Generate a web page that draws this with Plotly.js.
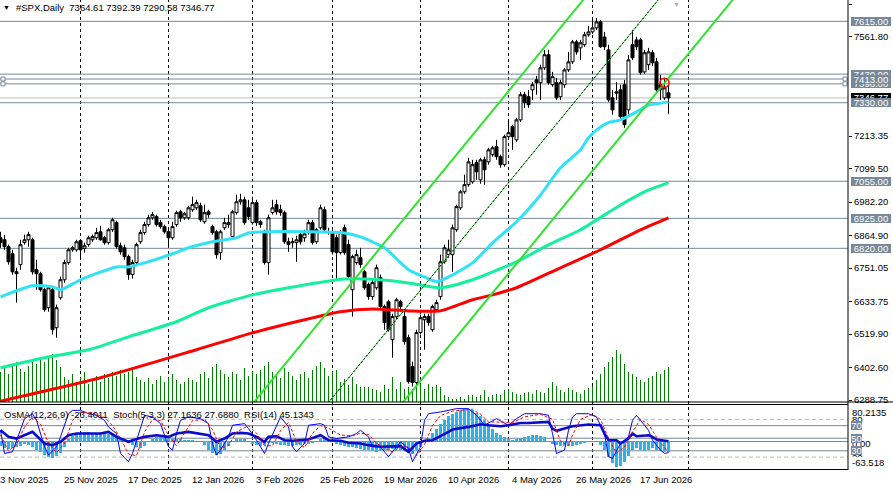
<!DOCTYPE html>
<html><head><meta charset="utf-8">
<script src="https://cdn.plot.ly/plotly-3.0.1.min.js"></script>
<style>html,body{margin:0;padding:0;background:#fff;}#chart{width:893px;height:490px;}</style>
</head><body><div id="chart"></div>
<script>
// ---------------- DATA ----------------
const open = [6857,6850,6826,6801,6738,6763,6840,6850,6850,6745,6731,6675,6612,6675,6542,6647,6710,6770,6815,6815,6847,6819,6833,6850,6857,6878,6857,6840,6885,6910,6829,6822,6791,6728,6770,6843,6875,6903,6927,6931,6910,6896,6878,6857,6903,6948,6927,6927,6955,6962,6969,6913,6948,6896,6878,6805,6892,6903,6861,6945,6983,6990,6962,6910,6980,6913,6875,6770,6945,6973,6955,6945,6843,6840,6840,6868,6857,6875,6910,6843,6892,6955,6875,6875,6857,6805,6892,6833,6675,6770,6787,6738,6693,6651,6682,6717,6616,6633,6500,6581,6633,6581,6507,6406,6350,6525,6570,6581,6535,6605,6651,6773,6798,6798,6885,6962,7018,7043,7053,7120,7060,7130,7123,7148,7176,7141,7113,7211,7246,7200,7270,7358,7351,7375,7410,7400,7452,7498,7393,7400,7351,7393,7445,7473,7543,7522,7533,7568,7578,7592,7613,7560,7515,7347,7368,7375,7393,7305,7533,7550,7550,7438,7463,7505,7473,7393,7347,7364.61];
const high = [6878,6867,6833,6815,6752,6850,6868,6878,6857,6780,6738,6682,6689,6686,6623,6721,6780,6822,6829,6850,6850,6840,6864,6868,6892,6899,6864,6892,6927,6917,6840,6833,6798,6780,6840,6885,6913,6938,6948,6938,6920,6903,6885,6913,6952,6955,6948,6969,7001,6990,6980,6973,6955,6903,6885,6885,6927,6938,6955,7008,7011,7001,6990,7001,6990,6920,6885,6938,6990,6990,6973,6952,6857,6857,6864,6878,6885,6920,6920,6892,6973,6966,6892,6885,6868,6885,6903,6850,6798,6815,6822,6745,6700,6710,6763,6728,6623,6640,6591,6647,6640,6598,6518,6423,6535,6588,6591,6591,6623,6640,6798,6833,6850,6903,6973,7025,7078,7137,7130,7130,7137,7141,7172,7179,7200,7148,7218,7270,7253,7277,7368,7368,7375,7403,7424,7463,7515,7515,7438,7417,7410,7452,7508,7550,7550,7550,7578,7599,7620,7627,7620,7578,7533,7375,7403,7393,7410,7497,7585,7561,7557,7515,7522,7515,7487,7428,7417,7392.39];
const low = [6822,6815,6763,6728,6630,6745,6833,6826,6728,6675,6668,6598,6598,6518,6507,6640,6700,6763,6808,6808,6787,6805,6826,6843,6850,6847,6833,6833,6878,6819,6798,6780,6710,6714,6763,6836,6868,6896,6920,6896,6889,6871,6829,6850,6896,6913,6920,6920,6948,6955,6913,6906,6927,6868,6784,6780,6885,6892,6857,6938,6973,6903,6920,6903,6899,6892,6763,6728,6938,6938,6934,6836,6808,6822,6773,6833,6843,6868,6833,6836,6885,6878,6868,6798,6710,6798,6798,6710,6581,6763,6752,6675,6640,6640,6675,6605,6535,6528,6437,6570,6598,6483,6346,6336,6339,6518,6465,6549,6528,6598,6640,6766,6787,6738,6878,6955,7011,7036,7046,7060,7046,7043,7113,7141,7130,7102,7106,7200,7165,7193,7263,7312,7312,7340,7358,7340,7445,7393,7386,7340,7340,7382,7438,7466,7498,7480,7526,7561,7571,7585,7522,7515,7333,7288,7340,7270,7242,7288,7480,7515,7428,7431,7445,7459,7368,7340,7340,7290.58];
const close = [6840,6826,6773,6738,6731,6833,6850,6868,6738,6731,6675,6605,6682,6535,6612,6710,6770,6815,6822,6843,6815,6829,6857,6861,6875,6850,6840,6885,6920,6826,6808,6791,6728,6770,6833,6875,6903,6927,6938,6903,6896,6878,6857,6896,6945,6927,6941,6962,6973,6980,6920,6945,6938,6875,6798,6878,6910,6910,6948,6983,6990,6910,6931,6980,6910,6903,6770,6927,6962,6948,6945,6843,6833,6843,6850,6843,6871,6910,6840,6885,6962,6885,6878,6808,6805,6875,6805,6721,6791,6798,6763,6682,6651,6700,6752,6616,6560,6535,6581,6640,6616,6493,6353,6350,6525,6577,6581,6560,6616,6630,6773,6822,6815,6892,6966,7018,7043,7123,7113,7088,7130,7095,7165,7172,7141,7113,7211,7225,7211,7270,7358,7330,7323,7393,7400,7452,7498,7400,7421,7347,7400,7445,7473,7543,7508,7540,7568,7578,7592,7613,7526,7526,7340,7305,7364,7281,7253,7480,7487,7526,7435,7505,7508,7470,7375,7375,7382,7346.77];
const volume = [30,35,28,38,40,33,30,36,42,38,45,40,44,48,42,35,
 25,22,28,20,24,30,18,22,26,20,28,24,30,26,32,28,
 30,35,25,22,20,24,18,22,26,20,24,28,22,18,20,24,
 22,20,28,30,24,35,38,32,28,25,30,28,22,34,26,30,
 28,32,36,40,30,26,24,34,30,26,22,28,30,24,32,36,
 40,34,26,30,32,
 20,23,17,25,18,15,15,15,13,12,10,17,13,25,13,20,13,15,13,20,18,13,18,15,17,15,7,5,3,3,5,3,7,7,5,7,12,5,7,8,7,12,13,10,
 8,7,9,10,8,12,10,9,14,20,16,12,10,14,12,10,8,12,14,16,22,28,35,40,45,52,48,38,30,28,25,22,20,24,26,30,28,32,35];

const maFastX = [0,8,13,15,20,29,32,36,43,47,53,59,62,67,76,86,90,96,102,106,109,112,118,123,129,135,140,145,147,150,152,155,159,162,164,167];
const maFast  = [6650,6689,6685,6675,6710,6755,6755,6769,6801,6822,6843,6857,6874,6878,6878,6874,6860,6822,6745,6720,6703,6720,6769,6839,6913,7007,7102,7165,7207,7245,7260,7270,7298,7322,7326,7333];
const maMidX = [0,11,22,32,44,52,63,76,86,95,102,110,118,129,137,145,155,161,167];
const maMid  = [6402,6437,6465,6510,6563,6612,6657,6692,6713,6710,6699,6682,6710,6773,6832,6885,6972,7018,7050];
const maSlowX = [0,25,49,63,76,85,93,102,110,118,123,129,140,150,160,167];
const maSlow  = [6285,6367,6465,6524,6570,6598,6608,6601,6601,6640,6657,6682,6752,6815,6885,6927];

const upperBars = [60,150], upperPrices = [6224,7764];
const midBars = [80,168],   midPrices = [6246,7751];
const lowerBars = [98,186], lowerPrices = [6236,7741];

const levels = [7615,7430,7396,7413,7330,7055,6925,6820];
const bidPrice = 7346.77;
const alertBar = 166, alertPrice = 7400;

const osma = [-10,-14,-16,-15,-12,-9,-6,-8,-12,-18,-24,-30,-35,-37,-33,-25,-12,
 5,12,17,20,22,22,20,19,18,18,17,
 14,10,5,0,-4,-8,
 -12,-14,-10,
 -2,6,9,11,10,9,8,6,
 5,4,4,3,2,1,
 -8,-18,-25,-29,-27,-20,-10,
 2,5,6,5,2,
 -5,-8,-9,-7,
 -4,-3,-5,-7,-8,-9,-9,-8,-7,-6,-5,-3,
 2,5,7,4,
 -2,-5,-8,-10,-12,-13,-14,-16,-18,-20,-22,-24,-22,-20,-18,-17,-16,-18,-22,-25,-28,-22,
 -12,-2,8,18,28,38,48,56,
 62,66,70,72,72,70,64,56,47,38,28,20,
 14,9,5,4,5,
 8,11,13,15,14,12,9,
 0,-5,-8,-10,-11,-10,-9,-7,-5,-3,
 -1,2,0,
 -8,-20,-35,-48,-57,-55,-45,-32,-20,
 -14,-18,-22,-20,
 -15,-18,-22,-24,-23.4];

const stochX = [0,1,3,5,6,8,9,11,12,14,15,17,18,20,22,24,26,27,29,30,32,33,35,36,38,40,42,43,44,45,47,50,52,53,54,55,57,58,61,62,64,66,67,69,70,72,73,74,76,77,80,81,82,84,87,89,90,92,93,95,97,99,100,102,103,105,106,107,110,114,117,119,121,124,127,129,131,135,137,138,139,141,142,143,144,147,149,151,152,153,155,157,158,159,160,162,163,165,166,167];
const stochMain = [62.7,25.8,28.5,62.7,81.1,89,78.5,36.4,23.2,36.4,52.2,89,94.3,94.3,89,86.4,78.5,68,57.4,25.8,12.7,25.8,68,86.4,83.8,73.2,36.4,31.1,57.4,78.5,83.8,81.1,73.2,41.6,23.2,31.1,52.2,70.6,73.2,65.3,46.9,25.8,41.6,70.6,83.8,68,36.4,28.5,41.6,70.6,73.2,70.6,52.2,49.5,52.2,57.4,62.7,52.2,36.4,36.4,20.6,36.4,44.3,33.7,12.7,36.4,78.5,89,91.7,97,97,86.4,70.6,81.1,70.6,81.1,89,89,86.4,57.4,25.8,31.1,62.7,83.8,89,89,83.8,57.4,20.6,17.9,41.6,52.2,78.5,86.4,78.5,62.7,46.9,31.1,25.8,27.16];
const sigX = [0,2,4,6,8,10,12,14,16,18,20,23,26,28,30,32,34,36,38,40,42,44,46,48,51,53,55,57,59,62,64,66,68,70,72,74,76,78,80,82,85,88,90,92,94,96,98,100,102,104,106,108,110,113,118,120,122,125,128,131,135,138,140,142,143,145,148,150,152,154,156,158,160,162,164,166,167];
const stochSignal = [55,30,40,68,84,72,42,27,42,78,92,90,83,70,50,25,22,60,80,78,55,38,58,78,80,64,34,38,60,70,58,38,38,62,75,45,35,58,70,66,55,54,58,56,42,34,28,36,36,22,40,70,86,93,96,88,76,76,75,84,88,80,45,38,55,80,88,80,50,26,36,60,80,72,52,35,27.69];
const rsiX = [0,2,4,7,8,11,13,15,17,19,22,25,27,29,32,33,36,39,42,44,47,50,52,54,56,58,60,62,64,66,67,69,71,73,77,80,82,85,87,90,92,95,97,100,102,104,106,108,112,113,117,120,122,125,127,130,132,136,137,138,139,141,143,147,150,151,152,154,155,157,158,159,162,163,164,167];
const rsi = [62.7,52.2,49.5,57.4,60.1,41.6,39,44.3,54.8,57.4,57.4,57.4,60.1,52.2,44.3,46.9,52.2,54.8,52.2,57.4,60.1,57.4,54.8,44.3,49.5,57.4,58.5,57.4,52.2,44.3,52.2,53.2,46.9,45.9,48,54.8,46.9,45.9,42.7,41.6,39,36.4,36.4,37.4,28.5,41.6,45.9,46.9,60.1,63.8,68,72.2,70.6,69,70.6,74.3,74.3,75.3,75.9,65.3,61.7,65.3,69,71.7,70.6,57.4,46.9,46.9,41.6,49.5,57.4,53.2,54.8,52.2,48,45.13];

const dateLabels = ['3 Nov 2025','25 Nov 2025','17 Dec 2025','12 Jan 2026','3 Feb 2026','25 Feb 2026','19 Mar 2026','10 Apr 2026','4 May 2026','26 May 2026','17 Jun 2026'];
const dateLabelBars = [0,16,32,48,64,80,96,112,128,144,160];
const priceTicks = [7675.65,7561.80,7213.35,7099.50,6982.20,6864.90,6751.05,6633.75,6519.90,6402.60,6288.75];
const paneLevels = [70,50,30];

// ---------------- DRAW ----------------
const FONT = 'Liberation Sans, Arial, sans-serif';
const idx = close.map((_, i) => i);
const PW = 848; // plot width in px
const px = v => v / PW;

const traces = [
  {type:'bar', x:idx, y:volume, xaxis:'x', yaxis:'y', width:0.4, marker:{color:'#008000', line:{width:0}}, hoverinfo:'skip'},
  {type:'scatter', mode:'lines', x:maSlowX, y:maSlow, xaxis:'x', yaxis:'y2', line:{color:'#ff0000', width:3, shape:'spline', smoothing:0.6}, hoverinfo:'skip'},
  {type:'scatter', mode:'lines', x:maMidX, y:maMid, xaxis:'x', yaxis:'y2', line:{color:'#14f09c', width:3, shape:'spline', smoothing:0.6}, hoverinfo:'skip'},
  {type:'scatter', mode:'lines', x:maFastX, y:maFast, xaxis:'x', yaxis:'y2', line:{color:'#30e2f6', width:3, shape:'spline', smoothing:0.6}, hoverinfo:'skip'},
  {type:'scatter', mode:'lines', x:upperBars, y:upperPrices, xaxis:'x', yaxis:'y2', line:{color:'#2fe32f', width:2}, hoverinfo:'skip'},
  {type:'scatter', mode:'lines', x:lowerBars, y:lowerPrices, xaxis:'x', yaxis:'y2', line:{color:'#2fe32f', width:2}, hoverinfo:'skip'},
  {type:'scatter', mode:'lines', x:midBars, y:midPrices, xaxis:'x', yaxis:'y2', line:{color:'#2fe32f', width:1}, hoverinfo:'skip'},
  {type:'scatter', mode:'lines', x:midBars, y:midPrices, xaxis:'x', yaxis:'y2', line:{color:'#000000', width:1, dash:'2px,2px'}, hoverinfo:'skip'},
  {type:'candlestick', x:idx, open:open, high:high, low:low, close:close, xaxis:'x', yaxis:'y2',
   increasing:{fillcolor:'#ffffff', line:{color:'#000000', width:1}},
   decreasing:{fillcolor:'#000000', line:{color:'#000000', width:1}},
   whiskerwidth:0, hoverinfo:'skip'},
  {type:'scatter', mode:'markers', x:[alertBar], y:[alertPrice], xaxis:'x', yaxis:'y2',
   marker:{symbol:'circle-open', size:9, color:'#ff0000', line:{width:1.5, color:'#ff0000'}}, hoverinfo:'skip'},
  {type:'bar', x:idx, y:osma, xaxis:'x', yaxis:'y3', width:0.6, marker:{color:'#2ab4ee', line:{width:0}}, hoverinfo:'skip'},
  {type:'scatter', mode:'lines', x:rsiX, y:rsi, xaxis:'x', yaxis:'y4', line:{color:'#0c0cc8', width:2.6}, hoverinfo:'skip'},
  {type:'scatter', mode:'lines', x:stochX, y:stochMain, xaxis:'x', yaxis:'y4', line:{color:'#0000ff', width:1}, hoverinfo:'skip'},
  {type:'scatter', mode:'lines', x:sigX, y:stochSignal, xaxis:'x', yaxis:'y4', line:{color:'#ff0000', width:1, dash:'3px,2px'}, hoverinfo:'skip'}
];

const LEVEL_COLOR = '#778899';
const shapes = [];
[20,42,63,83,105,127,148,172].forEach(b => shapes.push({type:'line', xref:'x', yref:'paper', x0:b, x1:b, y0:0, y1:1, layer:'below', line:{color:'#000', width:1, dash:'3px,3px'}}));
levels.forEach(l => shapes.push({type:'line', xref:'paper', yref:'y2', x0:0, x1:1, y0:l, y1:l, layer:'below', line:{color:LEVEL_COLOR, width:1}}));
shapes.push({type:'line', xref:'paper', yref:'y2', x0:0, x1:1, y0:bidPrice, y1:bidPrice, layer:'below', line:{color:'#c0c0c0', width:1}});
[7413,7396].forEach(l => {
  shapes.push({type:'rect', xref:'paper', yref:'y2', x0:px(1), x1:px(5), y0:l-7, y1:l+7, line:{color:LEVEL_COLOR, width:1}, fillcolor:'#fff'});
  shapes.push({type:'rect', xref:'paper', yref:'y2', x0:px(843), x1:px(847), y0:l-7, y1:l+7, line:{color:LEVEL_COLOR, width:1}, fillcolor:'#fff'});
});
shapes.push({type:'line', xref:'paper', yref:'y4', x0:0, x1:1, y0:80, y1:80, layer:'below', line:{color:'#b8b8b8', width:1, dash:'4px,3px'}});
shapes.push({type:'line', xref:'paper', yref:'y4', x0:0, x1:1, y0:20, y1:20, layer:'below', line:{color:'#b8b8b8', width:1, dash:'4px,3px'}});
paneLevels.forEach(l => shapes.push({type:'line', xref:'paper', yref:'y4', x0:0, x1:1, y0:l, y1:l, layer:'below', line:{color:LEVEL_COLOR, width:1}}));
shapes.push({type:'line', xref:'paper', yref:'y3', x0:0, x1:1, y0:0, y1:0, layer:'below', line:{color:LEVEL_COLOR, width:1}});
const yMainBot = (470-402)/470, yPaneTop = (470-404.5)/470;
shapes.push({type:'line', xref:'paper', yref:'paper', x0:0, x1:893/PW, y0:yMainBot, y1:yMainBot, line:{color:'#000', width:1}});
shapes.push({type:'line', xref:'paper', yref:'paper', x0:0, x1:1, y0:yPaneTop, y1:yPaneTop, line:{color:'#000', width:1}});
shapes.push({type:'line', xref:'paper', yref:'paper', x0:0, x1:1, y0:0.001, y1:0.001, line:{color:'#000', width:1}});
shapes.push({type:'line', xref:'paper', yref:'paper', x0:1, x1:1, y0:0, y1:1, line:{color:'#000', width:1}});

const ann = [];
const txt = (o) => Object.assign({showarrow:false, borderpad:0, borderwidth:0, font:{family:FONT, size:9.5, color:'#000'}}, o);
ann.push(txt({xref:'paper', yref:'paper', x:px(6), y:1-7.5/470, xanchor:'center', yanchor:'middle', text:'\u25BC', font:{family:FONT, size:7, color:'#000'}}));
ann.push(txt({xref:'paper', yref:'paper', x:px(16), y:1-7.5/470, xanchor:'left', yanchor:'middle', text:'#SPX,Daily\u00a0\u00a07364.61 7392.39 7290.58 7346.77'}));
ann.push(txt({xref:'paper', yref:'paper', x:px(676), y:1-5/470, xanchor:'center', yanchor:'middle', text:'\u25BC', font:{family:FONT, size:7, color:'#b0b0b0'}}));
ann.push(txt({xref:'paper', yref:'paper', x:px(4), y:(470-414.5)/470, xanchor:'left', yanchor:'middle', text:'OsMA(12,26,9) -23.4011\u00a0\u00a0Stoch(5,3,3) 27.1636 27.6880\u00a0\u00a0RSI(14) 45.1343'}));
dateLabels.forEach((t, i) => ann.push(txt({xref:'x', yref:'paper', x:dateLabelBars[i], xshift:-1, y:-10/470, xanchor:'left', yanchor:'middle', text:t})));
const box = (p, bg) => txt({xref:'paper', yref:'y2', x:px(870.7), y:p, xanchor:'center', yanchor:'middle', text:p.toFixed(2), bgcolor:bg, width:40, height:9, font:{family:FONT, size:9.5, color:'#fff'}});
levels.slice(0,4).forEach(l => ann.push(box(l, LEVEL_COLOR)));
ann.push(box(bidPrice, '#000000'));
levels.slice(4).forEach(l => ann.push(box(l, LEVEL_COLOR)));
const pl = (t, y, o) => txt(Object.assign({xref:'paper', yref:'y4', x:px(852), y:y, xanchor:'left', yanchor:'middle', text:t}, o||{}));
const pbox = (l) => txt({xref:'paper', yref:'y4', x:px(856.5), y:l, xanchor:'center', yanchor:'middle', text:String(l), bgcolor:LEVEL_COLOR, width:11, height:9, font:{family:FONT, size:9.5, color:'#fff'}});
ann.push(pl('80.2135', 90.4));
ann.push(pl('80', 80));
ann.push(pbox(70));
ann.push(pl('0.00', 41.4));
ann.push(pbox(50));
ann.push(pl('20', 19.5));
ann.push(pbox(30));
ann.push(pl('-63.518', 10.7, {bgcolor:'#ffffff'}));

const layout = {
  width:893, height:490, margin:{l:0, r:45, t:0, b:20, pad:0},
  paper_bgcolor:'#ffffff', plot_bgcolor:'#ffffff', showlegend:false,
  boxgap:0.25, boxgroupgap:0, bargap:0,
  font:{family:FONT, size:9.5, color:'#000'},
  xaxis:{range:[-0.125, 211.875], showgrid:false, zeroline:false, showticklabels:false, ticks:'', showline:false, fixedrange:true, rangeslider:{visible:false}},
  yaxis:{domain:[yMainBot, 1], range:[0, 402], visible:false, fixedrange:true},
  yaxis2:{overlaying:'y', side:'right', anchor:'x', range:[6281.9, 7689.7], tickvals:priceTicks, ticktext:priceTicks.map(v => v.toFixed(2)),
          ticks:'outside', ticklen:3, tickcolor:'#000', tickwidth:1, tickfont:{family:FONT, size:9.5, color:'#000'},
          showgrid:false, zeroline:false, showline:false, fixedrange:true},
  yaxis3:{domain:[0, yPaneTop], range:[-63.518, 82.39], visible:false, fixedrange:true},
  yaxis4:{overlaying:'y3', range:[-0.5, 103.6], visible:false, fixedrange:true},
  shapes:shapes, annotations:ann
};
Plotly.newPlot('chart', traces, layout, {staticPlot:true, displayModeBar:false});
</script>
</body></html>
